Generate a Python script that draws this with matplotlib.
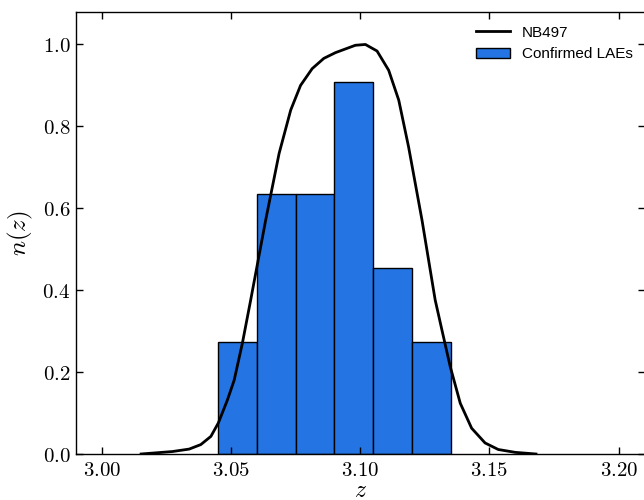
import matplotlib
matplotlib.use("Agg")
import matplotlib.pyplot as plt
from matplotlib.ticker import FormatStrFormatter, MultipleLocator

# histogram of confirmed LAEs (bin edges and normalised heights)
bin_edges = [3.045, 3.060, 3.075, 3.090, 3.105, 3.120, 3.135]
bin_heights = [0.273, 0.636, 0.636, 0.909, 0.455, 0.273]

# NB497 filter curve converted to redshift, normalised to peak
filt_z = [3.0152, 3.0273, 3.0338, 3.0383, 3.0422, 3.0451, 3.0486, 3.0512,
          3.0544, 3.0576, 3.0634, 3.0686, 3.0731, 3.0769, 3.0814, 3.0859,
          3.0904, 3.0981, 3.102, 3.1065, 3.111, 3.1149, 3.1187, 3.1239, 3.129,
          3.1316, 3.1348, 3.1387, 3.1431, 3.1483, 3.1534, 3.160, 3.168]
filt_n = [0.0, 0.006, 0.012, 0.023, 0.043, 0.076, 0.132, 0.180,
          0.271, 0.376, 0.571, 0.734, 0.840, 0.900, 0.941, 0.966,
          0.980, 0.998, 1.000, 0.984, 0.937, 0.864, 0.750, 0.571, 0.376,
          0.303, 0.214, 0.124, 0.063, 0.027, 0.011, 0.004, 0.0]

plt.rcParams['mathtext.fontset'] = 'cm'

fig = plt.figure(figsize=(6.44, 5.0), dpi=100)
ax = fig.add_axes([76 / 644, 46 / 500, (644.5 - 76) / 644, (454 - 11.7) / 500])

widths = [b - a for a, b in zip(bin_edges[:-1], bin_edges[1:])]
bars = ax.bar(bin_edges[:-1], bin_heights, width=widths, align='edge',
              color='#2474e3', edgecolor='black', linewidth=1.0)
line, = ax.plot(filt_z, filt_n, color='black', lw=2.0)

ax.set_xlim(2.99, 3.21)
ax.set_ylim(0, 1.08)
ax.xaxis.set_major_locator(MultipleLocator(0.05))
ax.yaxis.set_major_locator(MultipleLocator(0.2))
ax.xaxis.set_major_formatter(FormatStrFormatter(r'$%.2f$'))
ax.yaxis.set_major_formatter(FormatStrFormatter(r'$%.1f$'))
ax.tick_params(direction='in', top=True, right=True, length=5, width=1,
               labelsize=15)
ax.tick_params(axis='x', pad=4)
ax.tick_params(axis='y', pad=4)
for sp in ax.spines.values():
    sp.set_linewidth(1.0)

ax.set_xlabel(r'$z$', fontsize=17, labelpad=-1)
ax.set_ylabel(r'$n(z)$', fontsize=18, labelpad=5)

ax.legend([line, bars], ['NB497', 'Confirmed LAEs'], loc='upper right',
          bbox_to_anchor=(1.0, 0.994),
          frameon=False, prop={'family': 'Liberation Sans', 'size': 11},
          handlelength=2.2, borderaxespad=0.35)

fig.savefig('out.png', dpi=100)
